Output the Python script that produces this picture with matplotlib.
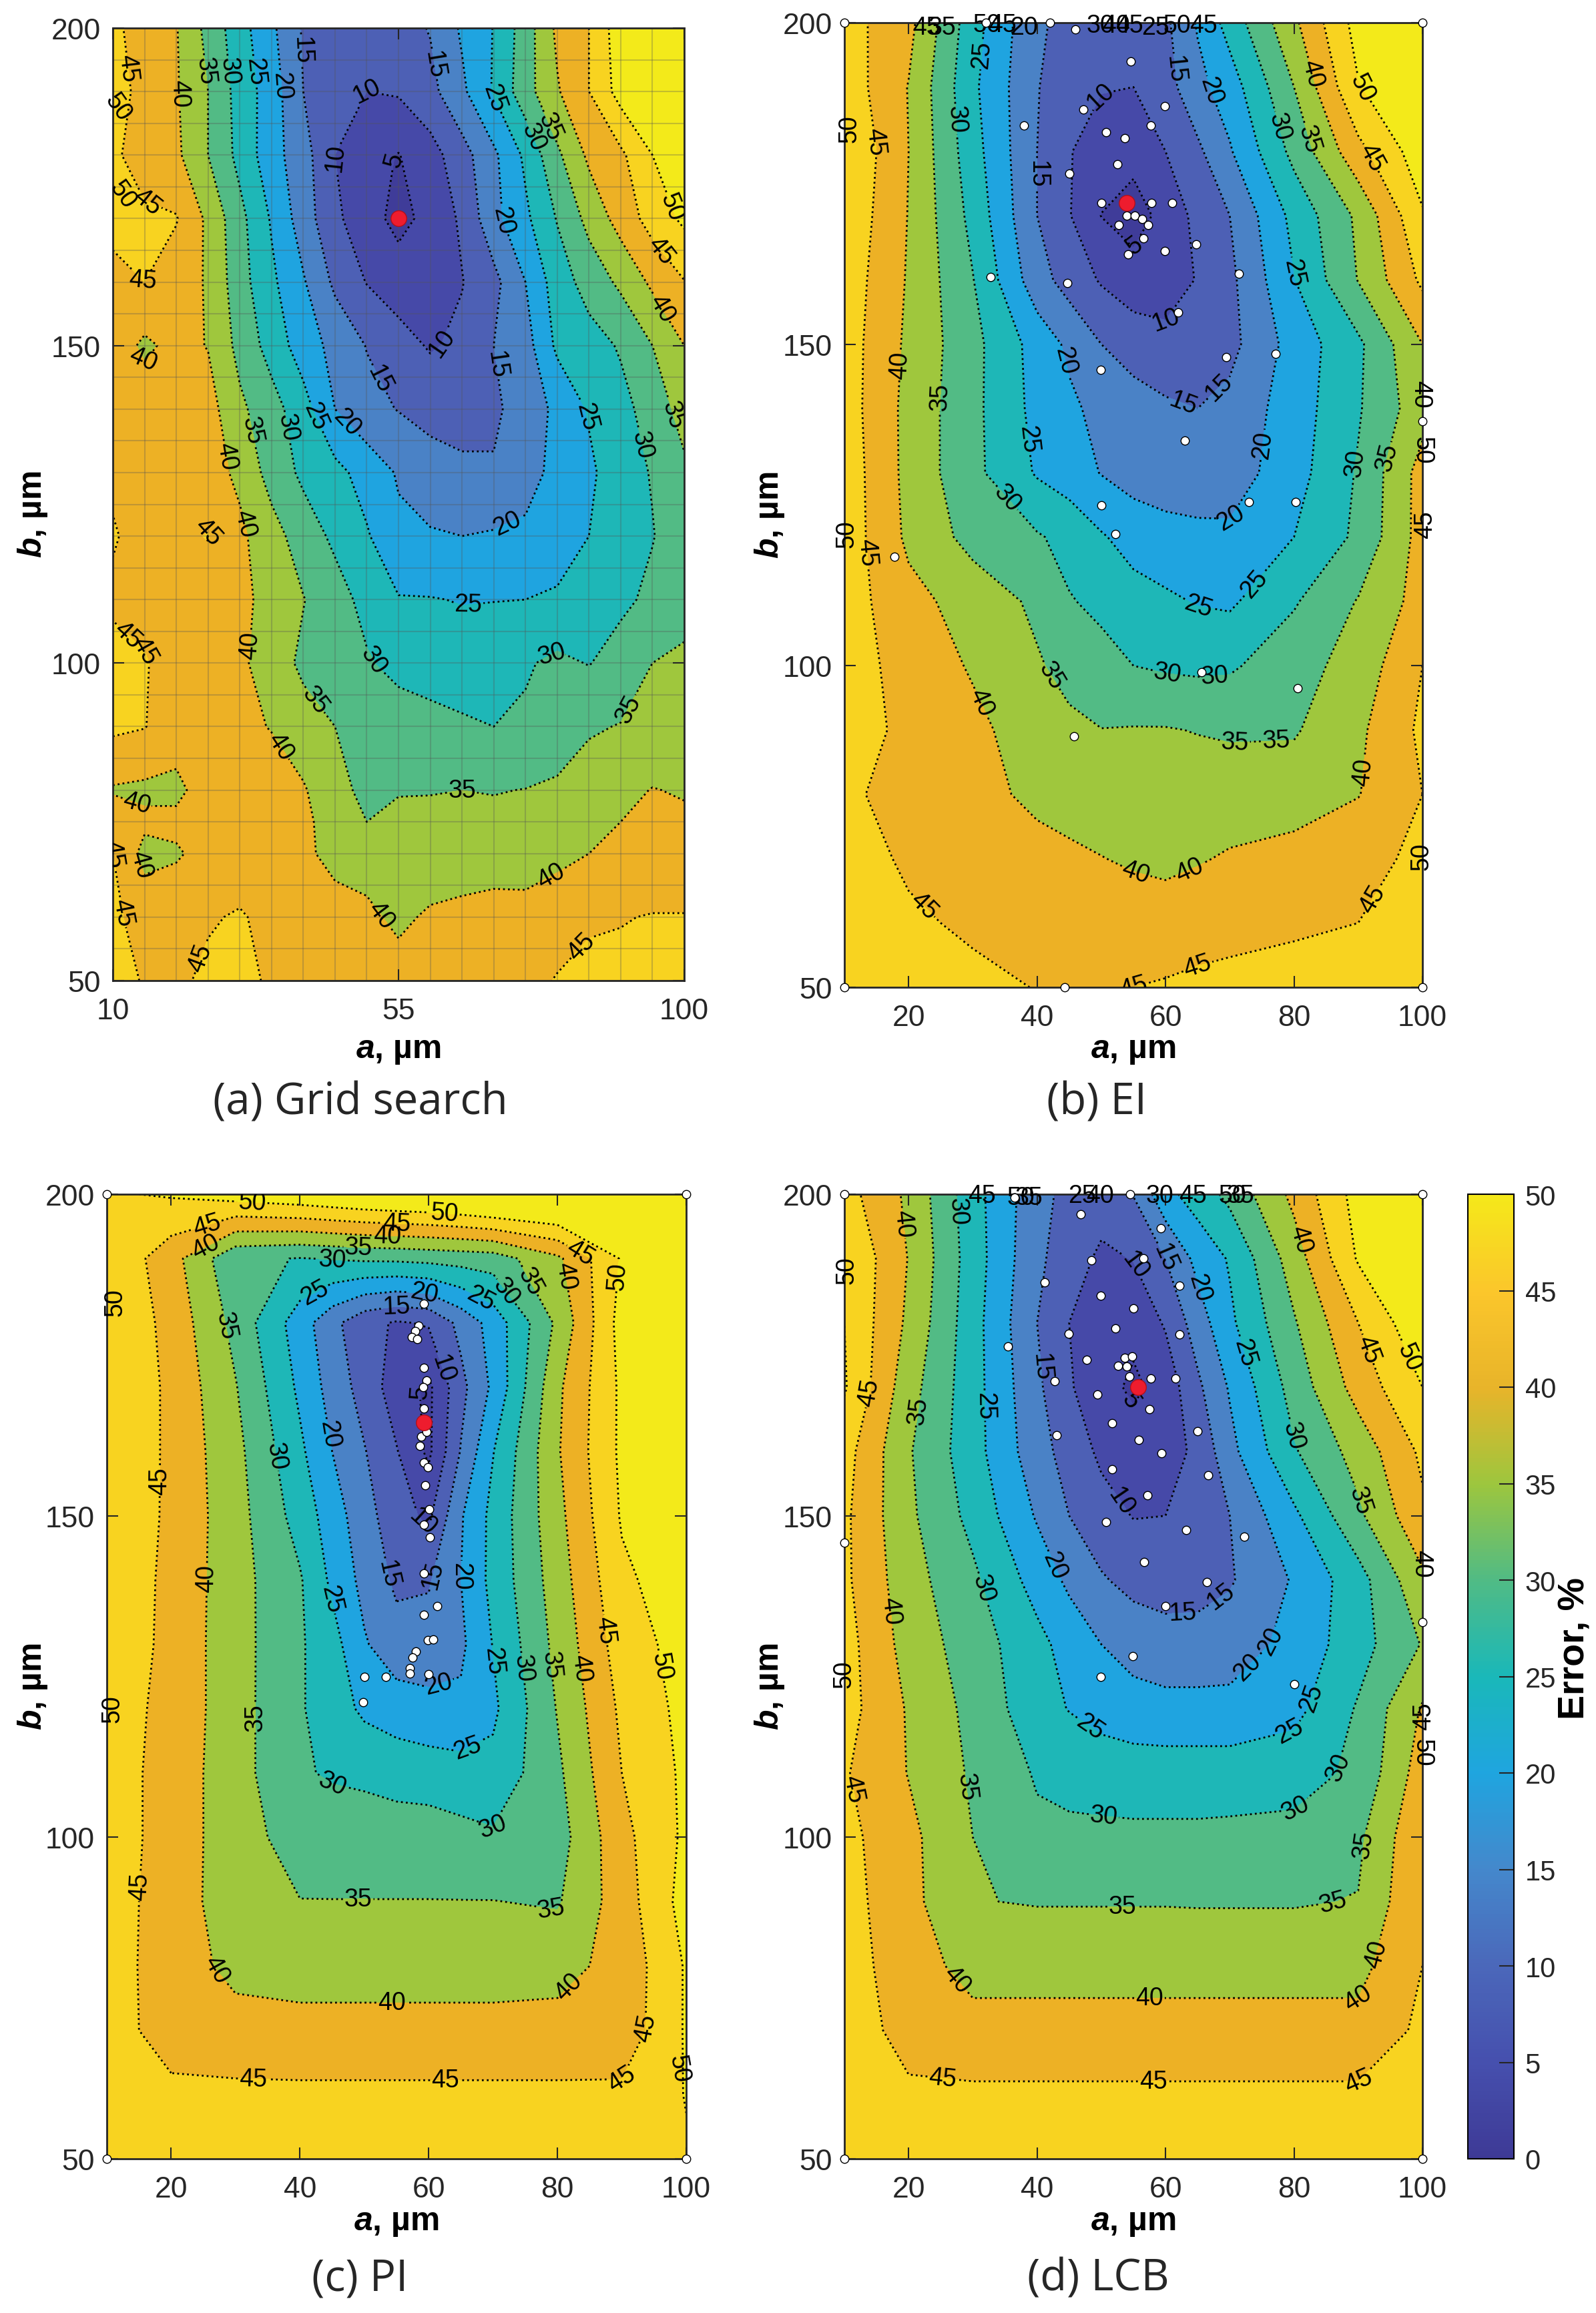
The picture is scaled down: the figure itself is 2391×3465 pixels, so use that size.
import numpy as np
import matplotlib
matplotlib.use('Agg')
import matplotlib.pyplot as plt
from matplotlib.colors import LinearSegmentedColormap, Normalize
from matplotlib.cm import ScalarMappable

plt.rcParams['font.family'] = ['Liberation Sans', 'DejaVu Sans']
plt.rcParams['mathtext.fontset'] = 'custom'
plt.rcParams['mathtext.bfit'] = 'Liberation Sans:italic:bold'
plt.rcParams['mathtext.rm'] = 'Liberation Sans'

# error levels and band colours
levels = [0, 5, 10, 15, 20, 25, 30, 35, 40, 45, 50, 100]
band_colors = ['#3f3c99', '#4649a8', '#4d60b5', '#4a82c6', '#1fa4e0', '#1eb7b7',
               '#52bb85', '#9fc73d', '#edb125', '#f8d320', '#f3ea1a']
bar_colors = ['#3e3a96', '#4650ae', '#4b68ba', '#4488cc', '#1fa5df', '#1ab8b9',
              '#50bb85', '#9dc63e', '#e8b42a', '#fbc62b', '#f5e81a']

b_rows = np.arange(50, 201, 10)[::-1]
b_rows_grid = np.array([200, 190, 180, 170, 160, 150, 140, 130, 120, 110, 100, 90, 80, 75, 70, 60, 50])

# (a) grid search, a = 10..100 step 5, rows from b_rows_grid
a_grid = np.arange(10, 101, 5)
z_grid = np.array([
    [46, 43, 40.3, 33.5, 27, 21, 14.5, 13, 12, 13, 15.3, 20.7, 25.2, 32.5, 41, 45, 53, 55, 56],
    [47, 43.5, 40.5, 35, 28, 22.5, 15, 12, 10, 10.5, 13.5, 19, 25.5, 33, 39.5, 45, 52, 56, 57],
    [46, 42.5, 41, 35, 28.5, 22, 17, 10, 6.5, 4.8, 8, 13, 19, 26, 34, 41, 44, 50, 55],
    [47, 46, 45.3, 39, 31.5, 24.5, 17.5, 11, 7, 3.5, 6.5, 10.8, 18.5, 24, 30.3, 36.5, 42, 47, 51],
    [43, 45, 42.5, 39.5, 32, 26, 20.5, 14, 9.8, 7.5, 8, 9.8, 13.5, 20, 27.5, 32, 36, 41, 44.8],
    [43, 39, 41.5, 39.8, 33.5, 28, 22.5, 18.5, 14.8, 12, 9.5, 11, 15, 18, 26, 28, 30.5, 35, 40],
    [43, 43, 42, 42, 36, 32, 27, 20, 16.5, 14.8, 13.5, 13, 14, 17.5, 21, 25.5, 28.5, 32, 37],
    [44, 43, 42, 42, 39, 33, 29, 26.5, 23, 19.5, 17, 16, 15.5, 18, 21.5, 24, 28, 30.3, 34],
    [45.5, 43, 44, 45.2, 41, 37, 32.5, 29, 25.5, 21, 20.5, 20, 20.5, 21, 22, 25, 27.5, 29.8, 32.5],
    [44, 43, 42, 43, 41.5, 38, 35.2, 32, 28.5, 25.3, 25.2, 24.8, 24.9, 25, 25.8, 27, 29, 31, 33],
    [47, 45.5, 42, 43, 41, 37.5, 34, 32, 30.5, 28.5, 27.5, 27, 27.5, 29.5, 31, 29.8, 32, 35, 36],
    [46, 45.2, 42, 42, 41, 39.8, 37, 35, 33.5, 32.5, 31.8, 30.8, 30, 30.7, 31.5, 34.5, 35.2, 35.5, 37],
    [39.5, 39, 39, 42, 41.5, 42, 40.5, 36.5, 33.8, 34.6, 34.8, 35, 34.8, 35.1, 36, 37, 38.5, 40.2, 39.5],
    [43, 41, 41, 42, 42, 42, 41, 38, 35, 36.5, 36, 36, 36, 36.5, 37, 38.5, 40, 41, 41],
    [45, 38.5, 39.5, 41.5, 42, 42.5, 41, 38.5, 38, 37.5, 37, 37, 37.5, 38, 38.5, 40, 41.5, 42, 42],
    [46, 43, 43, 44.5, 45.5, 43.5, 43, 42, 41, 39, 40.7, 41.5, 42, 41.5, 43.5, 44.5, 44.8, 45.2, 45.2],
    [46, 44.8, 44, 46, 47, 44, 43.5, 43.5, 43, 42, 42.5, 43, 43.5, 44, 45.2, 46, 46, 46.5, 46.5],
])

# (b), (c), (d) use the same columns
a_cols = np.array([10, 20, 30, 40, 45, 50, 55, 60, 65, 70, 80, 90, 100])
z_ei = np.array([
    [47, 41.5, 27, 15.8, 13.5, 12, 11.5, 14, 20.5, 27, 39, 52, 55],
    [48, 39.8, 26, 15.3, 11.5, 10.3, 10, 13, 18.5, 22.5, 35, 49.7, 55],
    [50, 40, 27, 15, 10.3, 7.5, 6.5, 10, 14, 19.5, 31.5, 43.5, 53],
    [49, 39.8, 28.5, 15, 10.3, 4.9, 3, 6.5, 11.5, 15, 26.5, 36, 49.5],
    [48, 39.5, 30.2, 17, 13, 9.5, 7, 7.5, 10.3, 13.8, 24.8, 35.2, 46],
    [47.5, 39, 31.5, 23, 19, 15, 13, 11.5, 10.5, 13.5, 22, 29, 40],
    [47.5, 38.5, 31.3, 23.5, 21, 18.5, 17, 15.8, 15, 16.5, 22.5, 29.5, 38],
    [48, 38.5, 31.3, 24.5, 22.5, 19.8, 18, 17, 16.5, 17.5, 23, 30.5, 42],
    [48, 39, 33.3, 30.5, 28.5, 25.5, 23, 22, 21.5, 21, 25, 31, 42],
    [47.5, 41.5, 38, 34, 30.3, 29, 27, 25.8, 24.7, 24.2, 29.5, 35.3, 42],
    [47.5, 43, 39.5, 35.5, 33.5, 31.5, 30, 29.3, 29, 29.3, 33, 37, 45],
    [47, 44, 41.2, 37.5, 36, 35.1, 35.3, 35.3, 34.8, 34.4, 34.5, 39, 46],
    [46, 43, 41.5, 39, 38.5, 38, 37.5, 37.5, 37.5, 37.5, 37.7, 39.8, 45],
    [48, 44, 43, 41.5, 40.7, 40.1, 39.5, 39, 39.6, 40.5, 41.7, 43.5, 46],
    [48, 46, 44, 43.5, 43, 42.5, 42, 42, 43, 43.3, 44.2, 45, 47],
    [48, 48, 46.5, 44.8, 44.5, 44.7, 45, 45.5, 46, 46.5, 47, 48, 49],
])
z_pi = np.array([
    [49.5, 50.5, 52.4, 54, 55, 56, 56.7, 57.3, 58.4, 60, 60, 55, 55],
    [49.5, 42, 31, 29.8, 30.3, 30.8, 31, 31.5, 32, 32.5, 39, 50.5, 53],
    [49.8, 43.4, 33.4, 22.5, 16.5, 11.5, 9.5, 10.5, 16.5, 22, 36, 52, 54],
    [49.8, 44, 35.3, 24, 18, 13, 7.5, 4, 13.5, 21, 39, 51, 53],
    [49.8, 44, 36.5, 26, 20, 15.3, 10.3, 4, 15.3, 24.8, 39.5, 51, 53],
    [49.5, 44, 37, 28, 22.5, 17, 12, 9, 19.5, 26.5, 38.5, 50.5, 53],
    [49, 43.7, 37, 30.5, 24, 18.5, 14, 14.5, 20, 26.5, 37.5, 49, 53],
    [49, 43.5, 37, 30.6, 27, 20.5, 17, 17, 19, 25.2, 36.5, 47.5, 52],
    [47.5, 43.5, 37, 30.5, 27.5, 24, 22.5, 21.5, 21, 24, 35.3, 46, 51.5],
    [47.5, 43, 37, 30.5, 29.5, 29, 28, 27.5, 27, 26.5, 34, 45, 51],
    [47.5, 43, 37, 33, 32.5, 32.5, 32.5, 32.5, 31.5, 30.7, 32.8, 43.5, 51],
    [47, 43, 36.8, 35.1, 35.1, 35.1, 35.1, 35.1, 35.1, 35.1, 34.5, 42.5, 52],
    [47, 42.8, 38.5, 38, 38, 38, 38, 38, 38, 38, 38.5, 41.5, 50.5],
    [47, 43, 42, 41.5, 41.5, 41.5, 41.5, 41.5, 41.5, 41.5, 41.5, 41.8, 50.5],
    [47, 46, 46, 46, 46, 46, 46, 46, 46, 46, 46, 46, 50.2],
    [47, 47, 47, 47, 47, 47, 47, 47, 47, 47, 47, 47, 49.5],
])
z_lcb = np.array([
    [47, 39, 27, 16.7, 13.5, 12.5, 15.2, 23.5, 27.3, 31.3, 41.3, 52, 55],
    [50, 39.8, 27.5, 16, 12.5, 9, 10.2, 15, 21.5, 25.5, 37.5, 50.5, 55],
    [50, 39, 27, 15, 10, 6, 6.5, 10.5, 17.5, 24, 34.5, 45, 54],
    [50.5, 37, 27, 16, 10.5, 7, 4, 7, 14, 20.5, 32, 42, 50],
    [47, 35.5, 27, 17, 13, 9, 7.5, 8, 11, 18.5, 29.5, 37, 46],
    [46, 36, 28.5, 19.5, 15, 12, 9.8, 10, 12, 15, 24, 34, 44],
    [46, 37, 31, 23, 19, 15.5, 13.5, 12.8, 13, 14.5, 20.5, 28, 39],
    [47, 38, 32.5, 26.5, 23, 20, 18, 17, 17, 17.5, 21.5, 28, 35.3],
    [47, 39.5, 33.5, 27, 24.8, 23, 22, 21.5, 21.5, 21.5, 23.5, 30.5, 40.5],
    [45.5, 39.8, 34.3, 29.5, 28.5, 28, 27.5, 27.5, 27.5, 27.5, 28, 31, 42.5],
    [46.5, 41.3, 35, 31, 31, 31, 31, 31, 31, 31.2, 31.5, 34, 44.5],
    [47, 41.5, 35.2, 34.7, 34.7, 34.7, 34.7, 34.7, 34.6, 34.6, 34.6, 35.2, 45],
    [47.5, 42, 38.5, 38.5, 38.5, 38.5, 38.5, 38.5, 38.5, 38.5, 38.5, 38.5, 45],
    [48, 43, 41.5, 41.5, 41.5, 41.5, 41.5, 41.5, 41.5, 41.5, 41.5, 41.5, 46],
    [47.5, 45.9, 45.9, 45.9, 45.9, 45.9, 45.9, 45.9, 45.9, 45.9, 45.9, 45.9, 47],
    [48, 47, 47, 47, 47, 47, 47, 47, 47, 47, 47, 47, 48],
])

# sampled points (a, b) and best point per method
best_grid = (55, 170)
best_ei = (54, 172)
best_pi = (59.2, 164.5)
best_lcb = (55.7, 170)
pts_ei = [(10, 200), (10, 50), (100, 200), (100, 50), (32, 200), (42, 200), (46, 199), (54.6, 194),
          (59.9, 187), (47.2, 186.5), (38, 184), (50.7, 183), (53.6, 182), (57.7, 184), (45, 176.5),
          (52.5, 178), (50, 172), (57.8, 172), (61, 172), (52.7, 168.5), (54, 170), (55.2, 170),
          (56.3, 169.5), (57.3, 168.5), (56.6, 166.5), (54.2, 164), (59.9, 164.5), (64.8, 165.5),
          (71.4, 161), (32.8, 160.5), (44.7, 159.5), (62, 155), (49.9, 146), (69.4, 148), (77.1, 148.5),
          (63, 135), (50, 125), (73, 125.5), (80.3, 125.5), (52.2, 120.5), (17.8, 117), (65.6, 99),
          (80.6, 96.5), (45.7, 89), (44.3, 50), (100, 138)]
pts_pi = [(10, 200), (100, 200), (10, 50), (100, 50), (59.2, 183), (58.4, 179.5), (57.9, 178.7),
          (57.4, 177.8), (58.2, 177.5), (59.3, 173), (59.7, 171), (59.1, 170), (59.3, 166.7), (58.8, 162.3),
          (59.7, 163), (58.6, 160.9), (59.2, 158.3), (59.9, 157.5), (59.5, 154.7), (60.1, 151), (59.2, 148.6),
          (60.2, 146.6), (59.2, 141), (61.3, 136), (59.2, 134.6), (59.9, 130.7), (60.7, 130.8), (58, 128.9),
          (57.5, 128), (57.1, 126.3), (57.1, 125.5), (60, 125.4), (50, 125), (53.3, 125), (49.8, 121)]
pts_lcb = [(10, 200), (100, 200), (10, 50), (100, 50), (36.5, 199.5), (46.8, 196.9), (54.5, 200), (59.3, 194.7),
           (48.5, 189.7), (56.6, 190), (41.2, 186.3), (62.2, 185.8), (49.9, 184.2), (55, 182.3), (44.9, 178.3),
           (52.2, 179.1), (62.2, 178.2), (35.5, 176.3), (47.7, 174.3), (53.7, 174.6), (54.8, 174.8), (52.6, 173.3),
           (54, 173.2), (54.4, 171.7), (57.7, 171.3), (61.5, 171.3), (42.7, 170.9), (49.4, 168.9), (57.5, 166.6),
           (51.7, 164.4), (65, 163.1), (43, 162.5), (55.8, 161.8), (59.4, 159.7), (51.7, 157.2), (66.6, 156.3),
           (57.2, 153.2), (50.7, 149), (63.2, 147.8), (72.3, 146.7), (10, 145.8), (56.7, 142.8), (66.4, 139.7),
           (60, 135.9), (100, 133.5), (54.9, 128.2), (49.9, 125), (80, 123.8)]

# contour label spots, in pixels of a crop of the reference panel
labels_grid = {
    5: [(760, 218)],
    10: [(755, 80), (682, 220), (935, 485)],
    15: [(625, 70), (845, 95), (1010, 505), (775, 525)],
    20: [(565, 120), (1030, 305), (700, 590), (1025, 710)],
    25: [(520, 100), (985, 145), (650, 575), (1210, 575), (955, 830)],
    30: [(462, 100), (1075, 195), (600, 590), (1320, 615), (778, 908), (1118, 895)],
    35: [(405, 100), (1110, 180), (520, 595), (1370, 575), (650, 965), (1310, 990), (943, 1078)],
    40: [(372, 130), (285, 500), (1345, 430), (475, 630), (350, 750), (355, 885), (498, 1065), (285, 1100),
         (290, 1195), (1120, 1205), (770, 1270)],
    45: [(265, 95), (285, 305), (1345, 350), (290, 390), (425, 730), (285, 860), (425, 860), (260, 1140),
         (265, 1260), (1140, 1280), (390, 1320)],
    50: [(1360, 290)],
}
labels_ei = {
    5: [(697, 340)],
    10: [(620, 130), (758, 457)],
    15: [(740, 98), (510, 240), (790, 550), (855, 537)],
    20: [(825, 130), (568, 498), (955, 617), (875, 715)],
    25: [(398, 75), (990, 378), (495, 607), (938, 818), (815, 842)],
    30: [(358, 165), (945, 180), (1130, 642), (432, 703), (755, 945), (848, 945)],
    35: [(1003, 197), (320, 548), (1190, 635), (532, 936), (885, 1033), (963, 1028)],
    40: [(1015, 105), (258, 505), (378, 980), (1138, 1068), (695, 1212), (798, 1202)],
    45: [(212, 195), (1125, 225), (200, 763), (298, 1250), (1177, 1257), (815, 1337), (650, 1362)],
    50: [(1120, 125)],
}
labels_pi = {
    5: [(835, 315)],
    10: [(893, 285), (835, 508)],
    15: [(805, 180), (780, 563), (895, 565)],
    20: [(868, 168), (672, 372), (950, 565), (900, 720)],
    25: [(615, 145), (1000, 165), (670, 597), (1010, 680), (978, 827)],
    30: [(680, 128), (1060, 165), (558, 402), (1072, 690), (655, 883), (1045, 930)],
    35: [(733, 115), (1108, 155), (455, 225), (1130, 685), (525, 757), (732, 1007), (1122, 1038)],
    40: [(398, 88), (792, 102), (1165, 155), (428, 568), (1192, 690), (415, 1115), (800, 1130), (1190, 1142)],
    45: [(415, 70), (810, 88), (1197, 112), (335, 435), (1243, 638), (320, 988), (517, 1252), (910, 1253),
         (1300, 1260), (1322, 1180)],
    50: [(515, 60), (908, 75), (1263, 157), (1312, 692)],
}
labels_lcb = {
    5: [(690, 325)],
    10: [(692, 143), (665, 465)],
    15: [(750, 132), (513, 280), (785, 612), (865, 600)],
    20: [(830, 170), (545, 550), (910, 690), (975, 658)],
    25: [(908, 260), (415, 333), (595, 785), (995, 795), (1048, 735)],
    30: [(365, 68), (1000, 373), (405, 582), (635, 904), (1035, 910), (1098, 828)],
    35: [(288, 340), (1125, 462), (370, 852), (672, 1022), (1075, 1027), (1148, 932)],
    40: [(255, 85), (1005, 108), (232, 612), (323, 1135), (723, 1140), (1125, 1143), (1182, 1085)],
    45: [(1115, 262), (172, 312), (160, 855), (330, 1255), (730, 1258), (1130, 1260)],
    50: [(1190, 275)],
}
# labels piled on the frame or on tiny contours, not tied to a contour here
edge_grid = [(240, 150, '50', -55), (250, 270, '50', -55)]
edge_ei = [(300, 38, '45', 0), (330, 38, '35', 0), (415, 35, '50', 0), (445, 35, '45', 0), (485, 38, '20', 0),
           (630, 36, '30', 0), (660, 36, '40', 0), (685, 36, '45', 0), (735, 38, '25', 0), (775, 36, '50', 0),
           (825, 36, '45', 0), (155, 178, '50', 90), (150, 738, '50', 90), (1237, 545, '40', -90),
           (1240, 622, '50', -90), (1245, 725, '45', 90), (1238, 1183, '50', 90)]
edge_pi = [(235, 192, '50', 90), (230, 745, '50', 90), (1387, 1235, '50', -80)]
edge_lcb = [(405, 47, '45', 0), (480, 50, '50', 0), (495, 50, '35', 0), (595, 47, '25', 0), (630, 47, '40', 0),
            (742, 47, '30', 0), (805, 47, '45', 0), (880, 47, '50', 0), (895, 47, '35', 0), (150, 148, '50', 90),
            (145, 698, '50', 90), (1238, 548, '40', -90), (1243, 755, '45', 90), (1240, 805, '50', -90)]

W, H = 2391, 3466
fig = plt.figure(figsize=(W / 100, H / 100), dpi=100, facecolor='white')


def make_ax(x0, x1, y0, y1):
    return fig.add_axes([x0 / W, 1 - y1 / H, (x1 - x0) / W, (y1 - y0) / H])


def panel(box, a, bs, z, crop, labels, best, pts=None, edge=(), xticks=(20, 40, 60, 80, 100),
          caption='', cap_xy=(0, 0), xlab_y=0, ylab_x=0):
    ax = make_ax(*box)
    ax.set_xlim(10, 100)
    ax.set_ylim(50, 200)
    cx0, csx, cy0, csy = crop
    to_data = lambda px, py: ((px - cx0) / csx + 10, (cy0 - py) / csy + 50)
    zz = z[::-1]
    bb = bs[::-1]
    ax.contourf(a, bb, zz, levels=levels, colors=band_colors)
    # one contour set per level, so each label stays on its own level
    for lvl in levels[1:-1]:
        cs = ax.contour(a, bb, zz, levels=[lvl], colors='k', linestyles=':', linewidths=2)
        if lvl in labels:
            ax.clabel(cs, fmt='%d', fontsize=27, inline=True, inline_spacing=2,
                      manual=[to_data(*s) for s in labels[lvl]])
    for px, py, txt, rot in edge:
        xd, yd = to_data(px, py)
        ax.text(xd, yd, txt, fontsize=27, rotation=rot, ha='center', va='center', clip_on=False, zorder=4)
    if pts is not None:
        ax.plot(*zip(*pts), 'o', ms=9, mfc='white', mec='k', mew=1, clip_on=False, zorder=5)
    ax.plot(*best, 'o', ms=17, mfc='#ee1c2e', mec='#b0101c', mew=1, clip_on=False, zorder=6)
    ax.set_xticks(list(xticks))
    ax.set_yticks([50, 100, 150, 200])
    ax.tick_params(direction='in', length=12, width=1.5, labelsize=32, top=True, right=True, colors='#262626')
    ax.tick_params(axis='x', pad=18)
    ax.tick_params(axis='y', pad=13)
    for s in ax.spines.values():
        s.set_linewidth(2)
        s.set_color('#262626')
    ax.set_xlabel(r'$\mathbfit{a}$, µm', fontsize=36, fontweight='bold', va='center')
    ax.set_ylabel(r'$\mathbfit{b}$, µm', fontsize=36, fontweight='bold', va='center')
    ax.xaxis.set_label_coords(0.5, (box[3] - xlab_y) / (box[3] - box[2]))
    ax.yaxis.set_label_coords((ylab_x - box[0]) / (box[1] - box[0]), 0.49)
    fig.text(cap_xy[0] / W, 1 - cap_xy[1] / H, caption, fontsize=47, family='Open Sans', ha='center', va='center',
             color='#262626')
    return ax


ax_a = panel((169, 1025, 43, 1470), a_grid, b_rows_grid, z_grid, (230, 12.97, 1356, 8.77), labels_grid, best_grid,
             edge=edge_grid, xticks=(10, 55, 100), caption='(a) Grid search', cap_xy=(540, 1653),
             xlab_y=1574, ylab_x=49)
ax_a.set_xticks(np.arange(10, 101, 5), minor=True)
ax_a.set_yticks(np.arange(50, 201, 5), minor=True)
ax_a.grid(which='both', color='#555555', alpha=0.3, linewidth=1.5)
ax_a.tick_params(which='minor', length=0)

panel((1265, 2131, 35, 1480), a_cols, b_rows, z_ei, (145, 12.17, 1365, 8.887), labels_ei, best_ei, pts_ei, edge_ei,
      caption='(b) EI', cap_xy=(1643, 1653), xlab_y=1574, ylab_x=1153)
panel((160, 1028, 1790, 3235), a_cols, b_rows, z_pi, (218, 13.16, 1358, 8.75), labels_pi, best_pi, pts_pi, edge_pi,
      caption='(c) PI', cap_xy=(539, 3415), xlab_y=3330, ylab_x=49)
panel((1265, 2131, 1790, 3235), a_cols, b_rows, z_lcb, (145, 12.17, 1358, 8.75), labels_lcb, best_lcb, pts_lcb,
      edge_lcb, caption='(d) LCB', cap_xy=(1645, 3415), xlab_y=3330, ylab_x=1153)

# colourbar
cax = make_ax(2199, 2268, 1790, 3235)
cmap = LinearSegmentedColormap.from_list('err', bar_colors)
cb = fig.colorbar(ScalarMappable(Normalize(0, 50), cmap), cax=cax, ticks=np.arange(0, 51, 5))
cb.ax.tick_params(direction='in', length=16, width=1.5, labelsize=30, pad=12, colors='#262626')
cb.outline.set_linewidth(1.5)
cb.set_label('Error, %', fontsize=40, fontweight='bold', labelpad=2, y=0.53)

fig.savefig('out.png', dpi=100)
